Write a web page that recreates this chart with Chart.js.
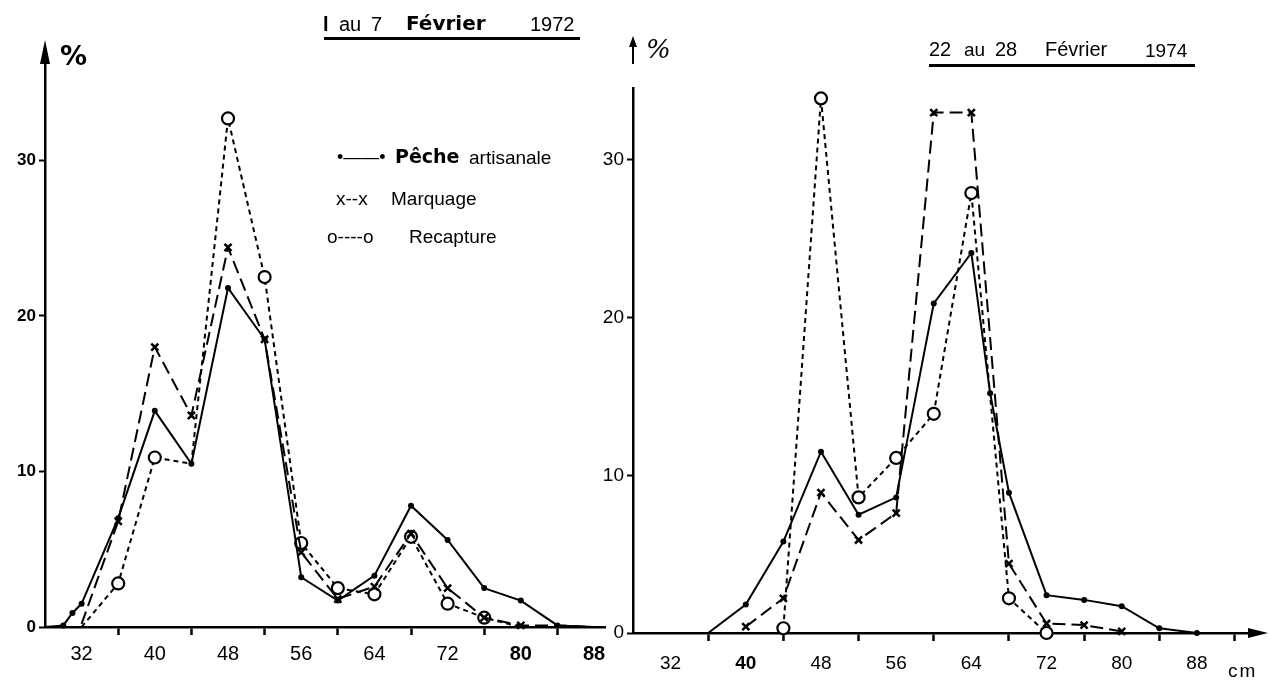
<!DOCTYPE html>
<html><head><meta charset="utf-8">
<script src="https://cdn.jsdelivr.net/npm/chart.js@4.4.1/dist/chart.umd.min.js"></script>
<style>
html,body{margin:0;padding:0;background:#fff;width:1270px;height:685px;overflow:hidden;position:relative;font-family:"Liberation Sans",Arial,sans-serif;color:#000}
canvas{position:absolute;top:0}
#cL{left:0}
#cR{left:590px}
.t{position:absolute;white-space:nowrap;line-height:1}
.ul{position:absolute;height:3px;background:#000}
.b{font-weight:bold}
</style></head><body>
<canvas id="cL" width="620" height="685"></canvas>
<canvas id="cR" width="680" height="685"></canvas>

<!-- left panel texts -->
<div class="t b" style="left:60px;top:42px;font-size:27px;font-family:'DejaVu Sans'">%</div>
<div class="t b" style="left:323px;top:14px;font-size:20px">l</div>
<div class="t" style="left:339px;top:14px;font-size:20px">au</div>
<div class="t" style="left:371px;top:14px;font-size:20px">7</div>
<div class="t b" style="left:406px;top:13px;font-size:20px;font-family:'DejaVu Sans'">Février</div>
<div class="t" style="left:530px;top:14px;font-size:20px">1972</div>
<div class="ul" style="left:324px;top:37px;width:256px"></div>

<div class="t" style="left:337px;top:148px;font-size:18px">•——•</div>
<div class="t b" style="left:395px;top:147px;font-size:19px;font-family:'DejaVu Sans'">Pêche</div>
<div class="t" style="left:469px;top:148px;font-size:19px">artisanale</div>
<div class="t" style="left:336px;top:189px;font-size:19px">x--x</div>
<div class="t" style="left:391px;top:189px;font-size:19px">Marquage</div>
<div class="t" style="left:327px;top:227px;font-size:19px">o----o</div>
<div class="t" style="left:409px;top:227px;font-size:19px">Recapture</div>

<!-- right panel texts -->
<div class="t" style="left:646px;top:36px;font-size:26px;font-style:italic;font-family:'DejaVu Serif'">%</div>
<div class="t" style="left:929px;top:39px;font-size:20px">22</div>
<div class="t" style="left:964px;top:40px;font-size:19px">au</div>
<div class="t" style="left:995px;top:39px;font-size:20px">28</div>
<div class="t" style="left:1045px;top:39px;font-size:20px">Février</div>
<div class="t" style="left:1145px;top:41px;font-size:19px">1974</div>
<div class="ul" style="left:929px;top:64px;width:266px"></div>
<div class="t" style="left:1228px;top:661px;font-size:19px;letter-spacing:2px">cm</div>

<script>
// ---------------- DATA ----------------
const xTickLabels = [32, 40, 48, 56, 64, 72, 80, 88];
const yTickValues = [0, 10, 20, 30];

// 1 au 7 Février 1972
const L_peche_cm  = [28, 30, 31, 32, 36, 40, 44, 48, 52, 56, 60, 64, 68, 72, 76, 80, 84, 88];
const L_peche_pct = [0, 0.1, 0.9, 1.5, 7.0, 13.9, 10.5, 21.8, 18.5, 3.2, 1.7, 3.3, 7.8, 5.6, 2.5, 1.7, 0.1, 0];
const L_marq_cm   = [32, 36, 40, 44, 48, 52, 56, 60, 64, 68, 72, 76, 80, 84, 88];
const L_marq_pct  = [0.2, 6.8, 18.0, 13.6, 24.4, 18.5, 4.8, 1.8, 2.6, 6.0, 2.5, 0.6, 0.1, 0.1, 0];
const L_recap_cm  = [32, 36, 40, 44, 48, 52, 56, 60, 64, 68, 72, 76, 80, 84, 88];
const L_recap_pct = [0, 2.8, 10.9, 10.5, 32.7, 22.5, 5.4, 2.5, 2.1, 5.8, 1.5, 0.6, 0, 0, 0];

// 22 au 28 Février 1974
const R_peche_cm  = [36, 40, 44, 48, 52, 56, 60, 64, 66, 68, 72, 76, 80, 84, 88, 92];
const R_peche_pct = [0, 1.8, 5.8, 11.5, 7.5, 8.6, 20.9, 24.1, 15.2, 8.9, 2.4, 2.1, 1.7, 0.3, 0, 0];
const R_marq_cm   = [40, 44, 48, 52, 56, 60, 64, 68, 72, 76, 80];
const R_marq_pct  = [0.4, 2.2, 8.9, 5.9, 7.6, 33.0, 33.0, 4.4, 0.6, 0.5, 0.1];
const R_recap_cm  = [44, 48, 52, 56, 60, 64, 68, 72];
const R_recap_pct = [0.3, 33.9, 8.6, 11.1, 13.9, 27.9, 2.2, 0];

// ---------------- HELPERS ----------------
const pts = (xs, ys) => xs.map((x, i) => ({x: x, y: ys[i]}));

function datasets(pc, pp, mc, mp, rc, rp, show) {
  return [
    {label: 'Pêche artisanale', data: pts(pc, pp), borderColor: '#000', borderWidth: 2,
     pointStyle: 'circle', backgroundColor: '#000', pointBorderWidth: 0,
     pointRadius: ctx => show.p(ctx.raw.x) ? 3 : 0, clip: false, tension: 0},
    {label: 'Marquage', data: pts(mc, mp), borderColor: '#000', borderWidth: 2, borderDash: [13, 6],
     pointStyle: 'crossRot', pointBorderWidth: 2.5, pointBorderColor: '#000',
     pointRadius: ctx => show.m(ctx.raw.x) ? 5 : 0, clip: false, tension: 0},
    {label: 'Recapture', data: pts(rc, rp), borderColor: '#000', borderWidth: 2, borderDash: [5, 4],
     pointStyle: 'circle', pointBackgroundColor: '#fff', pointBorderColor: '#000', pointBorderWidth: 2.2,
     pointRadius: ctx => show.r(ctx.raw.x) ? 6 : 0, clip: false, tension: 0}
  ];
}

const arrows = {
  id: 'arrows',
  afterDraw(chart, args, o) {
    const c = chart.ctx, a = chart.chartArea;
    c.save(); c.fillStyle = '#000'; c.strokeStyle = '#000'; c.lineWidth = 2;
    if (o.upTip !== undefined) {
      if (o.upLineFrom !== undefined) {
        c.beginPath(); c.moveTo(a.left, o.upLineFrom); c.lineTo(a.left, o.upLineTo); c.stroke();
      }
      c.beginPath(); c.moveTo(a.left, o.upTip); c.lineTo(a.left - o.upW, o.upTip + o.upH);
      c.lineTo(a.left + o.upW, o.upTip + o.upH); c.closePath(); c.fill();
    }
    if (o.rightTip !== undefined) {
      c.beginPath(); c.moveTo(a.right, a.bottom); c.lineTo(o.rightTip - 10, a.bottom); c.stroke();
      c.beginPath(); c.moveTo(o.rightTip, a.bottom); c.lineTo(o.rightTip - 20, a.bottom - 5);
      c.lineTo(o.rightTip - 20, a.bottom + 5); c.closePath(); c.fill();
    }
    c.restore();
  }
};

function makeChart(id, cfg) {
  const tickVals = [];
  for (let v = 32; v <= cfg.lastTick; v += 4) tickVals.push(v);
  return new Chart(document.getElementById(id), {
    type: 'line',
    data: {datasets: cfg.ds},
    plugins: [arrows],
    options: {
      responsive: false, animation: false, devicePixelRatio: 1,
      layout: {padding: {top: cfg.top, right: cfg.right, left: 0, bottom: 0}},
      plugins: {legend: {display: false}, tooltip: {enabled: false}, arrows: cfg.arrows},
      scales: {
        x: {
          type: 'linear', min: 28, max: cfg.xmax,
          afterBuildTicks: s => { s.ticks = tickVals.map(v => ({value: v})); },
          afterFit: s => { s.height = cfg.xh; },
          border: {display: true, color: '#000', width: 2.5},
          grid: {drawOnChartArea: false, drawTicks: true, tickLength: 8, tickWidth: 2.5,
                 tickColor: ctx => (ctx.tick && (ctx.tick.value - 28) % 8 === 0) ? '#000' : 'rgba(0,0,0,0)'},
          ticks: {autoSkip: false, maxRotation: 0, padding: cfg.xpad, color: '#000',
                  font: ctx => ({family: 'Liberation Sans', size: cfg.xfs,
                                 weight: (ctx.tick && cfg.boldX.includes(ctx.tick.value)) ? 'bold' : 'normal'}),
                  callback: v => xTickLabels.includes(v) ? String(v) : ''}
        },
        y: {
          min: 0, max: cfg.ymax,
          afterBuildTicks: s => { s.ticks = yTickValues.map(v => ({value: v})); },
          afterFit: s => { s.width = cfg.yw; },
          border: {display: true, color: '#000', width: 2.5},
          grid: {drawOnChartArea: false, drawTicks: true, tickLength: 6, tickWidth: 2, tickColor: '#000'},
          ticks: {padding: 3, color: '#000', font: {family: 'Liberation Sans', size: cfg.yfs, weight: cfg.yfw}}
        }
      }
    }
  });
}

makeChart('cL', {
  ds: datasets(L_peche_cm, L_peche_pct, L_marq_cm, L_marq_pct, L_recap_cm, L_recap_pct,
               {p: x => x > 28 && x < 88, m: x => x >= 36 && x <= 80,
                r: x => x >= 36 && x <= 76 && x !== 44}),
  top: 50, right: 15, xh: 58, yw: 45, xmax: 89.2, ymax: 37.1, lastTick: 88, xpad: 7, xfs: 20,
  boldX: [80, 88], yfs: 17, yfw: 'bold',
  arrows: {upTip: 40, upW: 5, upH: 24}
});

makeChart('cR', {
  ds: datasets(R_peche_cm, R_peche_pct, R_marq_cm, R_marq_pct, R_recap_cm, R_recap_pct,
               {p: x => x > 36 && x < 92, m: x => true, r: x => true}),
  top: 88, right: 12, xh: 52, yw: 43, xmax: 94.5, ymax: 34.56, lastTick: 92, xpad: 11, xfs: 19,
  boldX: [40], yfs: 19, yfw: 'normal',
  arrows: {upTip: 36, upW: 4, upH: 11, upLineFrom: 40, upLineTo: 64, rightTip: 678}
});
</script>
</body></html>
